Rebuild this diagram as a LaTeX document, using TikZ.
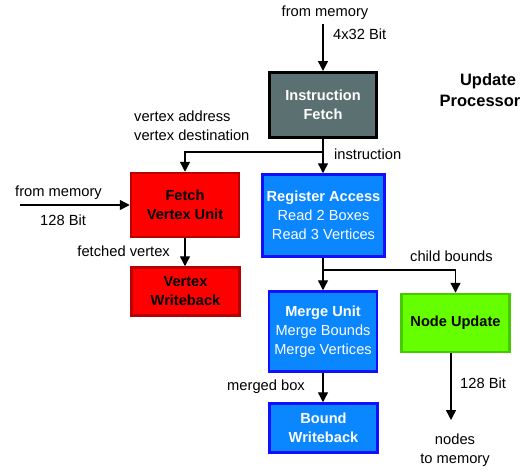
\documentclass[tikz,border=0pt]{standalone}
\usepackage{fontspec}
\setmainfont{Liberation Sans}
\usetikzlibrary{arrows.meta}
\definecolor{ifill}{HTML}{5B7070}
\definecolor{rfill}{HTML}{FF0000}
\definecolor{rline}{HTML}{B80000}
\definecolor{bfill}{HTML}{0A86FF}
\definecolor{bline}{HTML}{1010FF}
\definecolor{gfill}{HTML}{66FF00}
\definecolor{gline}{HTML}{44CC00}
\begin{document}
\begin{tikzpicture}[x=1pt,y=-1pt,
  txt/.style={font=\fontsize{14.7}{19}\selectfont, inner sep=0pt, text height=10pt, text depth=3pt},
  blk/.style={draw, line width=2.5pt, inner sep=0pt, align=center, font=\fontsize{14.6}{19}\selectfont},
  ifbox/.style={blk, fill=ifill, draw=black, line width=3pt, text=white},
  redbox/.style={blk, fill=rfill, draw=rline, text=black},
  bluebox/.style={blk, fill=bfill, draw=bline, text=white},
  greenbox/.style={blk, fill=gfill, draw=gline, text=black},
  ttl/.style={font=\fontsize{16.5}{21}\selectfont\bfseries, inner sep=0pt, text height=12pt, text depth=3pt},
  arr/.style={line width=1.4pt, -{Triangle[width=10pt,length=10pt]}}]
\useasboundingbox (0,0) rectangle (526,469);
% boxes
\node[ifbox, minimum width=107pt, minimum height=65pt] (IF) at (323,105) {\textbf{Instruction}\\\textbf{Fetch}};
\node[redbox, minimum width=108pt, minimum height=64pt] (FVU) at (185,205) {\textbf{Fetch}\\\textbf{Vertex Unit}};
\node[bluebox, minimum width=122pt, minimum height=82pt] (RA) at (323.5,215.5) {\textbf{Register Access}\\Read 2 Boxes\\Read 3 Vertices};
\node[redbox, minimum width=108pt, minimum height=48pt] (VW) at (185.5,291.5) {\textbf{Vertex}\\\textbf{Writeback}};
\node[bluebox, minimum width=108pt, minimum height=80pt] (MU) at (323,331.5) {\textbf{Merge Unit}\\Merge Bounds\\Merge Vertices};
\node[greenbox, minimum width=108pt, minimum height=58pt] (NU) at (455.5,323) {\textbf{Node Update}};
\node[bluebox, minimum width=108pt, minimum height=49pt] (BW) at (323.5,428) {\textbf{Bound}\\\textbf{Writeback}};
% coordinates
\coordinate (m1) at (323,24);
\coordinate (m2) at (20,205);
\coordinate (b1) at (323,152);
\coordinate (b2) at (323,270);
\coordinate (out) at (451,420);
% connectors
\draw[arr] (m1) -- (IF.north -| m1);
\draw[arr] (IF.south -| m1) -- (RA.north -| m1);
\draw[arr] (b1) -| (FVU.north);
\draw[arr] (m2) -- (FVU.west);
\draw[arr] (FVU.south) -- (FVU.south |- VW.north);
\draw[arr] (RA.south -| m1) -- (MU.north -| m1);
\draw[arr] (b2) -| (NU.north);
\draw[arr] (MU.south -| m1) -- (BW.north -| m1);
\draw[arr] (NU.south -| out) -- (out);
% labels
\node[txt] (l1) at (325,13) {from memory};
\node[txt, anchor=west] (l2) at (333,36) {4x32 Bit};
\node[ttl] (l3a) at (488,81) {Update};
\node[ttl] (l3b) at (480,102) {Processor};
\node[txt, anchor=west] (l4) at (134,118) {vertex address};
\node[txt, anchor=west] (l5) at (134,137) {vertex destination};
\node[txt, anchor=west] (l6) at (334,156) {instruction};
\node[txt, anchor=west] (l7) at (15,193) {from memory};
\node[txt, anchor=west] (l8) at (40,222) {128 Bit};
\node[txt, anchor=east] (l9) at (170,253) {fetched vertex};
\node[txt, anchor=west] (l10) at (410,258) {child bounds};
\node[txt, anchor=west] (l11) at (227,387) {merged box};
\node[txt, anchor=west] (l12) at (460,385) {128 Bit};
\node[txt] (l13) at (455,441) {nodes};
\node[txt] (l14) at (455,460) {to memory};
\end{tikzpicture}
\end{document}
